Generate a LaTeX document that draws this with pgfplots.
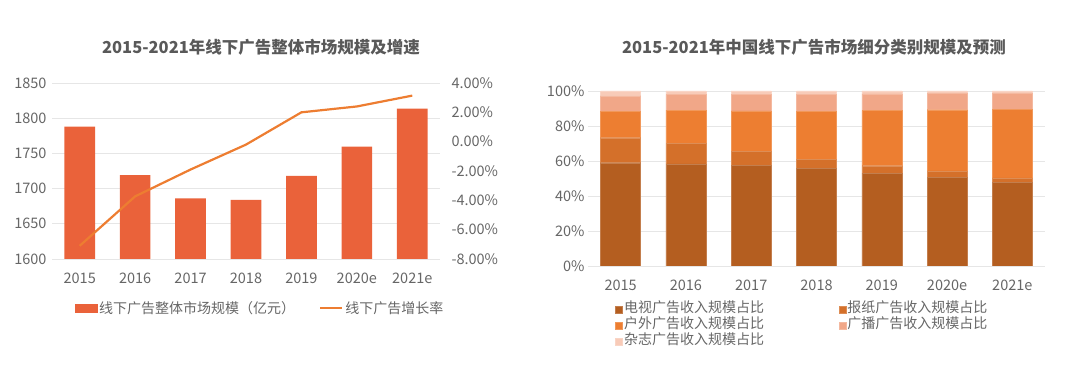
\documentclass[border=0pt]{standalone}
\usepackage{pgfplots}
\pgfplotsset{compat=1.18}
\usepackage{fontspec}
\setmainfont{Noto Sans CJK SC}
\definecolor{barred}{HTML}{EA623A}
\definecolor{lineor}{HTML}{ED7D31}
\definecolor{tv}{HTML}{B45E20}
\definecolor{news}{HTML}{D4702A}
\definecolor{outd}{HTML}{ED7E31}
\definecolor{radio}{HTML}{F1A788}
\definecolor{maga}{HTML}{F8CBB8}
\definecolor{gridgray}{HTML}{E6E6E6}
\definecolor{tickgray}{HTML}{666666}
\definecolor{titlegray}{HTML}{595959}
\begin{document}
\begin{tikzpicture}
\path[use as bounding box] (0pt,0pt) rectangle (1080pt,369pt);
\pgfplotsset{
  common/.style={
    scale only axis,
    anchor=south west,
    axis line style={draw=none},
    major tick style={draw=none},
    /pgf/number format/assume math mode=true,
    ticklabel style={font=\fontsize{14.5}{15}\selectfont, text=tickgray},
    grid style={gridgray, line width=0.8pt},
    xmin=-0.5, xmax=6.5,
    xtick={0,...,6},
    xticklabels={2015,2016,2017,2018,2019,2020e,2021e},
  }
}
% Left: bars
\begin{axis}[common,
  at={(52pt,110pt)}, width=388pt, height=176pt,
  ymin=1600, ymax=1850, ytick={1600,1650,...,1850},
  yticklabel style={/pgf/number format/1000 sep=, xshift=-2pt},
  ymajorgrids,
  ybar, bar width=30.7pt,
  xticklabel style={yshift=-6pt},
]
\addplot[fill=barred, draw=none] coordinates {(0,1788) (1,1719) (2,1686) (3,1684) (4,1718) (5,1759.5) (6,1813.5)};
\end{axis}
% Left: line on right axis
\begin{axis}[common,
  at={(52pt,110pt)}, width=388pt, height=176pt,
  axis x line=none,
  axis y line*=right,
  ymin=-8, ymax=4, ytick={-8,-6,...,4},
  yticklabel={\pgfmathprintnumber[fixed,fixed zerofill,precision=2]{\tick}\%},
  yticklabel style={xshift=8pt},
  legend style={draw=none, fill=none, at={(0.536,-0.278)}, anchor=center,
    font=\fontsize{14}{15}\selectfont, text=tickgray,
    /tikz/every even column/.append style={column sep=22pt}},
  legend columns=2,
]
\addlegendimage{legend image code/.code={\fill[barred] (0pt,-4pt) rectangle (22pt,4pt);}}
\addlegendentry{线下广告整体市场规模（亿元）}
\addplot[lineor, line width=2.2pt, legend image code/.code={\draw[lineor, line width=2.2pt] (0pt,0pt) -- (22pt,0pt);}]
  coordinates {(0,-7.1) (1,-3.73) (2,-1.9) (3,-0.2) (4,2.0) (5,2.4) (6,3.14)};
\addlegendentry{线下广告增长率}
\end{axis}
% Right: stacked
\begin{axis}[common,
  at={(588pt,103pt)}, width=457pt, height=175pt,
  ymin=0, ymax=100, ytick={0,20,...,100},
  yticklabel={\pgfmathprintnumber{\tick}\%},
  ymajorgrids,
  ybar stacked, bar width=40pt,
  xticklabel style={yshift=-10pt},
  legend style={draw=none, fill=none, at={(0.0525,-0.19)}, anchor=north west,
    font=\fontsize{14}{15}\selectfont, text=tickgray,
    nodes={inner sep=1.5pt, text height=10pt, text depth=3pt},
    /tikz/every even column/.append style={column sep=73pt}},
  legend columns=2,
  area legend,
  legend image code/.code={\fill[#1] (0pt,-3.5pt) rectangle (7pt,3.5pt);},
]
\addplot[fill=tv, draw=tv!80!white, line width=0.4pt] coordinates {(0,59.0) (1,58.3) (2,57.5) (3,55.6) (4,53.1) (5,50.7) (6,47.6)};
\addlegendentry{电视广告收入规模占比}
\addplot[fill=news, draw=news!80!white, line width=0.4pt] coordinates {(0,14.3) (1,11.8) (2,8.0) (3,5.5) (4,4.2) (5,3.6) (6,2.7)};
\addlegendentry{报纸广告收入规模占比}
\addplot[fill=outd, draw=outd!80!white, line width=0.4pt] coordinates {(0,14.9) (1,19.0) (2,23.1) (3,27.1) (4,31.5) (5,35.0) (6,39.4)};
\addlegendentry{户外广告收入规模占比}
\addplot[fill=radio, draw=radio!80!white, line width=0.4pt] coordinates {(0,9.1) (1,8.8) (2,9.5) (3,9.9) (4,9.5) (5,9.2) (6,9.0)};
\addlegendentry{广播广告收入规模占比}
\addplot[fill=maga, draw=maga!80!white, line width=0.4pt] coordinates {(0,2.7) (1,2.1) (2,1.9) (3,1.9) (4,1.7) (5,1.5) (6,1.3)};
\addlegendentry{杂志广告收入规模占比}
\end{axis}
% Titles
\node[font=\bfseries\fontsize{16.5}{17}\selectfont, text=titlegray] at (261pt,322pt) {2015-2021年线下广告整体市场规模及增速};
\node[font=\bfseries\fontsize{16.5}{17}\selectfont, text=titlegray] at (814pt,322pt) {2015-2021年中国线下广告市场细分类别规模及预测};
\end{tikzpicture}
\end{document}
